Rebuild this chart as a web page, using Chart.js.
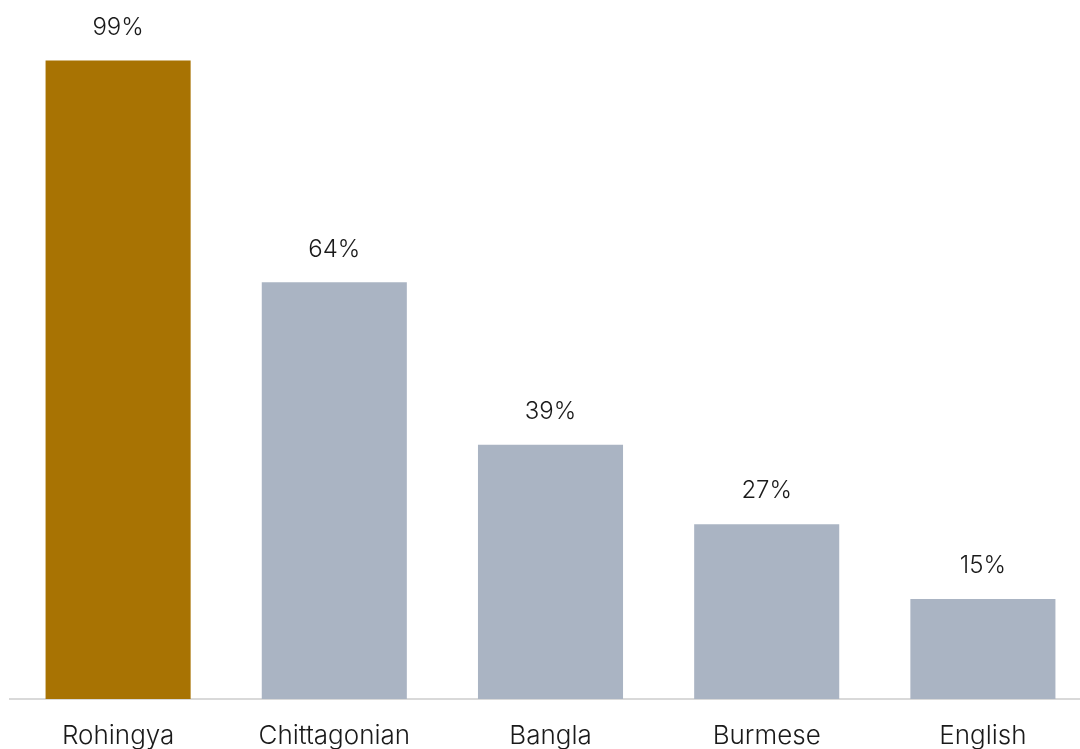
<!DOCTYPE html>
<html>
<head>
<meta charset="utf-8">
<script src="https://cdn.jsdelivr.net/npm/chart.js@4/dist/chart.umd.min.js"></script>
<style>
  html, body { margin: 0; padding: 0; background: #fff; overflow: hidden; }
  #wrap { width: 1091px; height: 749px; }
</style>
</head>
<body>
<div id="wrap"><canvas id="chart" width="1091" height="749"></canvas></div>
<script>
// languages spoken (share of respondents)
const languages = ['Rohingya', 'Chittagonian', 'Bangla', 'Burmese', 'English'];
const shares = [99, 64.6, 39.4, 27.1, 15.5];
const shareLabels = ['99%', '64%', '39%', '27%', '15%'];
const barColors = ['#A87303', '#AAB4C3', '#AAB4C3', '#AAB4C3', '#AAB4C3'];

const FONT = 'Inter, "Noto Sans", sans-serif';

// draws the percentage above each bar
const valueLabels = {
  id: 'valueLabels',
  afterDatasetsDraw(chart) {
    const ctx = chart.ctx;
    const meta = chart.getDatasetMeta(0);
    ctx.save();
    ctx.font = '300 24px ' + FONT;
    ctx.fillStyle = '#1a1a1a';
    ctx.textAlign = 'center';
    ctx.textBaseline = 'middle';
    meta.data.forEach((bar, i) => {
      ctx.fillText(shareLabels[i], bar.x, bar.y - 33);
    });
    ctx.restore();
  }
};

new Chart(document.getElementById('chart'), {
  type: 'bar',
  data: {
    labels: languages,
    datasets: [{
      data: shares,
      backgroundColor: barColors,
      borderWidth: 0,
      categoryPercentage: 1,
      barPercentage: 0.671
    }]
  },
  options: {
    responsive: false,
    animation: false,
    layout: { padding: { top: 54, left: 10, right: 0, bottom: 0 } },
    plugins: {
      legend: { display: false },
      tooltip: { enabled: false }
    },
    scales: {
      x: {
        grid: { display: false, drawTicks: false },
        border: { display: true, color: '#D9D9D9', width: 2 },
        ticks: {
          color: '#1a1a1a',
          font: { family: FONT, size: 26, weight: '300' },
          padding: 22,
          maxRotation: 0
        },
        afterFit(scale) { scale.height = 50; }
      },
      y: {
        display: false,
        min: 0,
        max: 100
      }
    }
  },
  plugins: [valueLabels]
});
</script>
</body>
</html>
